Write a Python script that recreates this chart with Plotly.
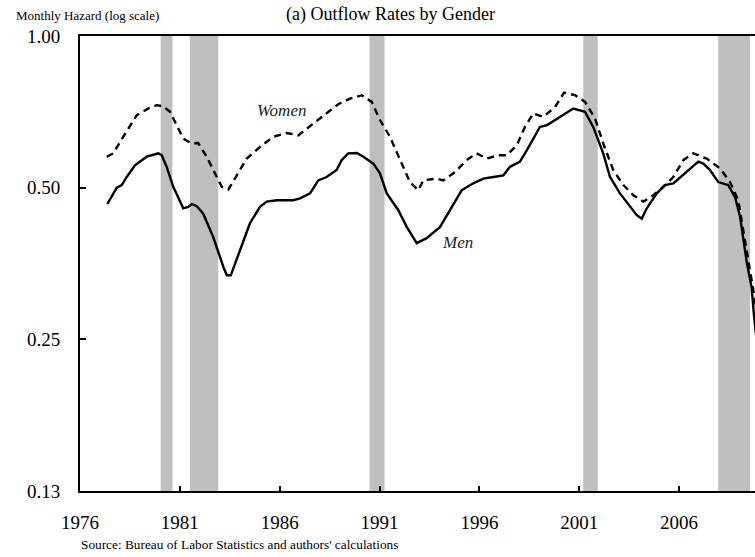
import plotly.graph_objects as go
import math

# Men (solid) monthly hazard
men_year = [1977.37, 1977.84, 1978.09, 1978.34, 1978.75, 1979.34, 1979.92, 1980.09, 1980.34, 1980.67,
            1981.17, 1981.42, 1981.59, 1981.84, 1982.17, 1982.67, 1983.18, 1983.35, 1983.55, 1984.01,
            1984.51, 1985.01, 1985.35, 1985.85, 1986.68, 1987.02, 1987.52, 1987.93, 1988.35, 1988.85,
            1989.10, 1989.43, 1989.86, 1990.19, 1990.69, 1991.02, 1991.36, 1991.94, 1992.36, 1992.86,
            1993.36, 1994.03, 1994.53, 1995.11, 1995.69, 1996.20, 1996.70, 1997.20, 1997.53, 1998.03,
            1998.37, 1999.03, 1999.37, 2000.04, 2000.70, 2001.29, 2001.70, 2002.20, 2002.54, 2003.04,
            2003.54, 2003.88, 2004.13, 2004.38, 2004.88, 2005.29, 2005.71, 2006.38, 2006.96, 2007.21,
            2007.55, 2007.96, 2008.46, 2008.80, 2009.05, 2009.39, 2009.63, 2009.75, 2009.85]
men_rate = [0.464, 0.500, 0.506, 0.525, 0.554, 0.576, 0.585, 0.580, 0.550, 0.502,
            0.455, 0.458, 0.464, 0.460, 0.444, 0.399, 0.348, 0.335, 0.335, 0.376,
            0.425, 0.458, 0.469, 0.472, 0.472, 0.476, 0.487, 0.517, 0.525, 0.542,
            0.567, 0.585, 0.586, 0.576, 0.558, 0.534, 0.487, 0.451, 0.418, 0.388,
            0.397, 0.418, 0.451, 0.494, 0.510, 0.521, 0.525, 0.529, 0.550, 0.563,
            0.593, 0.660, 0.665, 0.691, 0.718, 0.707, 0.660, 0.585, 0.525, 0.487,
            0.458, 0.441, 0.434, 0.455, 0.487, 0.506, 0.510, 0.537, 0.563, 0.558,
            0.542, 0.513, 0.506, 0.479, 0.438, 0.355, 0.317, 0.279, 0.255]

# Women (dashed) monthly hazard
women_year = [1977.34, 1977.67, 1978.00, 1978.42, 1978.84, 1979.42, 1979.84, 1980.17, 1980.51, 1980.76,
              1981.17, 1981.59, 1981.92, 1982.34, 1982.76, 1983.10, 1983.43, 1983.85, 1984.35, 1985.01,
              1985.68, 1986.35, 1986.93, 1987.68, 1988.35, 1988.93, 1989.52, 1990.11, 1990.61, 1991.02,
              1991.52, 1992.02, 1992.52, 1992.94, 1993.19, 1993.86, 1994.19, 1994.78, 1995.36, 1995.86,
              1996.37, 1996.95, 1997.37, 1997.87, 1998.28, 1998.70, 1999.20, 1999.79, 2000.24, 2000.79,
              2001.29, 2001.79, 2002.20, 2002.70, 2003.21, 2003.71, 2004.21, 2004.71, 2005.21, 2005.71,
              2006.21, 2006.71, 2007.38, 2008.05, 2008.55, 2008.96, 2009.30, 2009.63, 2009.80, 2009.88]
women_rate = [0.576, 0.585, 0.616, 0.655, 0.696, 0.718, 0.729, 0.725, 0.707, 0.675,
              0.626, 0.612, 0.613, 0.576, 0.534, 0.502, 0.496, 0.529, 0.571, 0.602,
              0.631, 0.642, 0.635, 0.670, 0.702, 0.732, 0.751, 0.763, 0.740, 0.681,
              0.631, 0.567, 0.513, 0.494, 0.517, 0.521, 0.517, 0.537, 0.567, 0.585,
              0.571, 0.580, 0.580, 0.607, 0.660, 0.702, 0.691, 0.723, 0.772, 0.763,
              0.740, 0.686, 0.612, 0.542, 0.506, 0.483, 0.469, 0.483, 0.502, 0.525,
              0.567, 0.585, 0.571, 0.546, 0.513, 0.472, 0.393, 0.328, 0.299, 0.280]

# NBER recessions (start, end)
rec_start = [1980.04, 1981.50, 1990.50, 2001.20, 2007.96]
rec_end = [1980.63, 1982.92, 1991.25, 2001.92, 2009.55]

x_ticks = [1976, 1981, 1986, 1991, 1996, 2001, 2006]
y_ticks = [0.125, 0.25, 0.5, 1.0]
y_ticktext = ["0.13", "0.25", "0.50", "1.00"]

FONT = "Liberation Serif, Times New Roman, serif"

fig = go.Figure()
fig.add_trace(go.Scatter(x=women_year, y=women_rate, mode="lines", name="Women",
                         line=dict(color="black", width=2.4, dash="7px,5px")))
fig.add_trace(go.Scatter(x=men_year, y=men_rate, mode="lines", name="Men",
                         line=dict(color="black", width=2.4)))

for s, e in zip(rec_start, rec_end):
    fig.add_shape(type="rect", xref="x", yref="paper", x0=s, x1=e, y0=0, y1=1,
                  fillcolor="#BFBFBF", line=dict(width=0), layer="below")

fig.add_annotation(x=1986.07, y=math.log10(0.712), xref="x", yref="y", text="<i>Women</i>",
                   showarrow=False, font=dict(family=FONT, size=17, color="#222"))
fig.add_annotation(x=1994.9, y=math.log10(0.390), xref="x", yref="y", text="<i>Men</i>",
                   showarrow=False, font=dict(family=FONT, size=17, color="#222"))
fig.add_annotation(x=-0.0978, y=1.046, xref="paper", yref="paper", text="Monthly Hazard (log scale)",
                   showarrow=False, xanchor="left", yanchor="middle",
                   font=dict(family=FONT, size=13, color="black"))
fig.add_annotation(x=0.4607, y=1.048, xref="paper", yref="paper", text="(a) Outflow Rates by Gender",
                   showarrow=False, xanchor="center", yanchor="middle",
                   font=dict(family=FONT, size=18, color="black"))
fig.add_annotation(x=-0.002, y=-0.1165, xref="paper", yref="paper",
                   text="Source: Bureau of Labor Statistics and authors' calculations",
                   showarrow=False, xanchor="left", yanchor="middle",
                   font=dict(family=FONT, size=13.3, color="black"))

fig.update_layout(
    width=755, height=557,
    margin=dict(l=80, r=0, t=36, b=66, autoexpand=False),
    paper_bgcolor="white", plot_bgcolor="white",
    showlegend=False,
    font=dict(family=FONT, size=19, color="black"),
)
fig.update_xaxes(range=[1976, 2009.80], tickvals=x_ticks, ticktext=[str(v) for v in x_ticks],
                 showgrid=False, zeroline=False, showline=True, linecolor="black", linewidth=2,
                 mirror=True, ticks="inside", ticklen=5, tickwidth=1.5, tickcolor="black",
                 automargin=False,
                 ticklabelstandoff=13, tickfont=dict(family=FONT, size=19, color="black"))
fig.update_yaxes(type="log", range=[math.log10(0.125), 0], tickvals=y_ticks, ticktext=y_ticktext,
                 showgrid=False, zeroline=False, showline=True, linecolor="black", linewidth=2,
                 ticks="inside", ticklen=6, tickwidth=1.5, tickcolor="black",
                 automargin=False,
                 ticklabelstandoff=14, tickfont=dict(family=FONT, size=19, color="black"))

fig.write_html("out.html", config={"displayModeBar": False},
               post_script="document.body.style.margin='0';document.body.style.overflow='hidden';")
